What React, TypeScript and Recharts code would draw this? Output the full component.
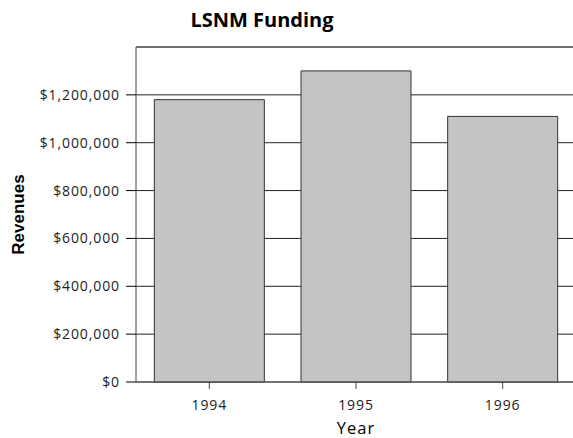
import { BarChart, Bar, XAxis, YAxis, CartesianGrid, ReferenceLine } from 'recharts';

const years = ['1994', '1995', '1996'];
const revenues = [1180000, 1300000, 1110000];
const yTicks = [0, 200000, 400000, 600000, 800000, 1000000, 1200000];

const data = years.map((year, i) => ({ year, revenue: revenues[i] }));

const fmt = (v: number) => '$' + v.toLocaleString('en-US');

const font = '"Open Sans", sans-serif';

export default function App() {
  return (
    <div style={{ position: 'absolute', left: 0, top: 0, width: 573, height: 438, background: '#fff' }}>
      <div
        style={{
          position: 'absolute',
          left: 0,
          top: 6,
          width: 524,
          textAlign: 'center',
          fontFamily: font,
          fontWeight: 700,
          fontSize: 20,
          color: '#000',
        }}
      >
        LSNM Funding
      </div>
      <BarChart
        width={573}
        height={438}
        data={data}
        margin={{ top: 47, right: -3, left: 0, bottom: 0 }}
        barCategoryGap="12.5%"
      >
        <CartesianGrid vertical={false} stroke="#222" strokeOpacity={1} />
        <ReferenceLine y={1400000} stroke="#666" strokeWidth={1.5} ifOverflow="extendDomain" />
        <XAxis
          dataKey="year"
          height={56}
          tickSize={7}
          tickMargin={11}
          tickLine={{ stroke: '#444' }}
          axisLine={{ stroke: '#555' }}
          tick={{ fill: '#222', fontSize: 14, fontFamily: font, letterSpacing: 0.9 }}
          label={{ value: 'Year', position: 'insideBottom', offset: 4, fill: '#000', fontSize: 16.5, fontFamily: font, letterSpacing: 1 }}
        />
        <YAxis
          width={136}
          domain={[0, 1400000]}
          ticks={yTicks}
          tickFormatter={fmt}
          tickSize={10}
          tickMargin={6}
          tickLine={{ stroke: '#000' }}
          axisLine={{ stroke: '#444' }}
          tick={{ fill: '#222', fontSize: 14, fontFamily: font, letterSpacing: 0.9 }}
          label={{
            value: 'Revenues',
            angle: -90,
            position: 'insideLeft',
            offset: 18,
            fill: '#000',
            fontSize: 17,
            fontWeight: 700,
            fontFamily: '"Liberation Sans", Arial, sans-serif',
            style: { textAnchor: 'middle' },
          }}
        />
        <Bar dataKey="revenue" fill="#c4c4c4" stroke="#333" strokeWidth={1} isAnimationActive={false} />
      </BarChart>
    </div>
  );
}
